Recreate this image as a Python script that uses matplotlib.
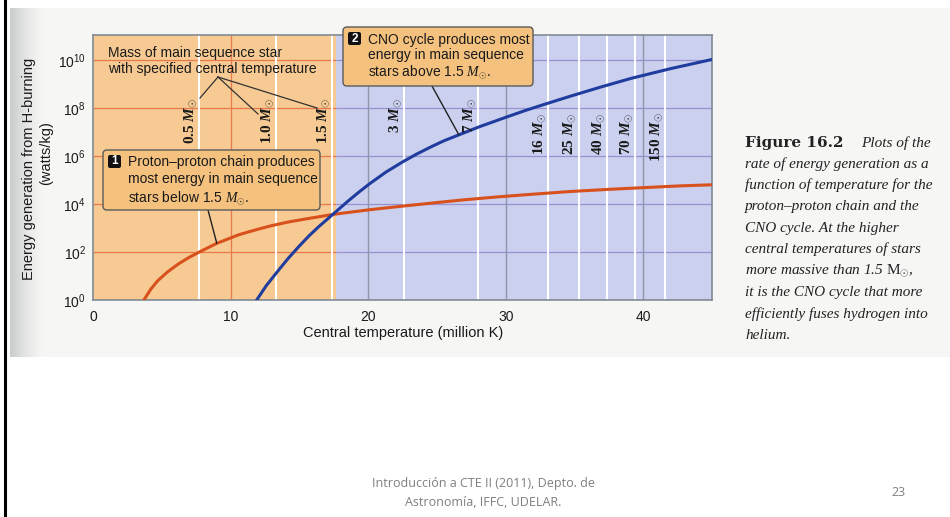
#!/usr/bin/env python3
"""Energy generation rate vs. central temperature: p-p chain and CNO cycle."""

import matplotlib
matplotlib.use("Agg")
import matplotlib.pyplot as plt
import numpy as np
from matplotlib.colors import LinearSegmentedColormap
from matplotlib.lines import Line2D
from matplotlib.patches import FancyBboxPatch, Rectangle
from matplotlib.ticker import NullLocator
from matplotlib.transforms import IdentityTransform, blended_transform_factory

W, H = 950, 517

# proton-proton chain: central temperature (million K) vs log10 rate (W/kg)
PP_TEMP = [3.7, 4.2, 4.7, 5.4, 6.2, 7.0, 7.8, 9.0, 10.6, 12.0, 13.0, 14.2, 15.5, 17.5,
           20.1, 22.0, 24.5, 26.9, 29.3, 31.8, 34.7, 37.5, 40.0, 42.5, 45.0]
PP_LOG = [0.0, 0.45, 0.8, 1.16, 1.5, 1.78, 2.02, 2.36, 2.72, 2.95, 3.1, 3.25, 3.38, 3.57,
          3.76, 3.88, 4.03, 4.17, 4.29, 4.4, 4.52, 4.61, 4.68, 4.75, 4.8]

# CNO cycle
CNO_TEMP = [11.9, 12.6, 13.5, 14.2, 15.0, 15.7, 16.4, 17.5, 18.6, 19.3, 20.1, 21.3, 22.5,
            23.5, 24.5, 25.5, 26.6, 28.1, 30.1, 31.4, 32.7, 34.7, 36.9, 39.1, 42.0, 45.0]
CNO_LOG = [0.0, 0.6, 1.25, 1.74, 2.25, 2.67, 3.05, 3.6, 4.15, 4.48, 4.84, 5.33, 5.75,
           6.07, 6.36, 6.63, 6.88, 7.22, 7.63, 7.89, 8.13, 8.49, 8.87, 9.23, 9.64, 10.02]

# main sequence masses (solar units) and their central temperatures
MASS_LABELS = ["0.5", "1.0", "1.5", "3", "7", "16", "25", "40", "70", "150"]
MASS_TEMP = [7.7, 13.3, 17.4, 22.6, 28.0, 33.1, 35.3, 37.4, 39.4, 41.6]
PP_LIMIT_TEMP = 17.7

X_TICKS = [0, 10, 20, 30, 40]
Y_EXPONENTS = [0, 2, 4, 6, 8, 10]

CAPTION_LINES = [
    "rate of energy generation as a",
    "function of temperature for the",
    "proton\u2013proton chain and the",
    "CNO cycle. At the higher",
    "central temperatures of stars",
    r"more massive than 1.5 $\mathrm{M}_{\odot}$,",
    "it is the CNO cycle that more",
    "efficiently fuses hydrogen into",
    "helium.",
]

ORANGE_BG = "#f6ca92"
BLUE_BG = "#cad0ee"
ORANGE_GRID = "#e9784a"
BLUE_GRID = "#9a90d4"
BOX_FILL = "#f4c27e"

plt.rcParams["font.family"] = ["Liberation Sans", "DejaVu Sans"]
plt.rcParams["mathtext.fontset"] = "custom"
plt.rcParams["mathtext.rm"] = "Liberation Serif"
plt.rcParams["mathtext.it"] = "Liberation Serif:italic"
plt.rcParams["mathtext.bf"] = "Liberation Serif:bold"
plt.rcParams["mathtext.bfit"] = "Liberation Serif:italic:bold"

IDENT = IdentityTransform()


def _callout(fig, x0, y0, x1, y1, number, text, spacing, text_dy):
    fig.add_artist(FancyBboxPatch((x0, H - y1), x1 - x0, y1 - y0,
                                  boxstyle="round,pad=0,rounding_size=4", transform=IDENT,
                                  facecolor=BOX_FILL, edgecolor="#5a5a5a", lw=1.0, zorder=4))
    bx, by = x0 + 5, y0 + 5
    fig.add_artist(FancyBboxPatch((bx, H - by - 13), 13, 13,
                                  boxstyle="round,pad=0,rounding_size=2", transform=IDENT,
                                  facecolor="#111111", edgecolor="none", zorder=5))
    fig.text(bx + 6.5, H - by - 6.5, number, transform=IDENT, color="white",
             fontsize=8.5, fontweight="bold", ha="center", va="center", zorder=6)
    fig.text(x0 + 25, H - y0 - text_dy, text, transform=IDENT, fontsize=10, color="#1a1a1a",
             ha="left", va="top", linespacing=spacing, zorder=6)


def main():
    fig = plt.figure(figsize=(W / 100, H / 100), dpi=100)
    fig.patch.set_facecolor("white")

    # scanned page background with the shaded gutter on the left
    fig.add_artist(Rectangle((10, H - 357), 940, 349, transform=IDENT,
                             facecolor="#f6f7f5", edgecolor="none", zorder=-5))
    gax = fig.add_axes([10 / W, (H - 357) / H, 32 / W, 349 / H], zorder=-4)
    shade = LinearSegmentedColormap.from_list("gutter", ["#c8cccc", "#e4e6e5", "#f6f7f5"])
    gax.imshow(np.linspace(0, 1, 64)[None, :], aspect="auto", cmap=shade)
    gax.axis("off")
    fig.add_artist(Line2D([4.5, 4.5], [0, H], transform=IDENT, color="black", lw=2.2))

    ax = fig.add_axes([93 / W, (H - 300) / H, (712 - 93) / W, 265 / H])
    ax.set_facecolor("none")
    ax.set_yscale("log")
    ax.set_xlim(0, 45)
    ax.set_ylim(1, 10 ** 11.04)

    ax.axvspan(0, PP_LIMIT_TEMP, color=ORANGE_BG, lw=0, zorder=0)
    ax.axvspan(PP_LIMIT_TEMP, 45, color=BLUE_BG, lw=0, zorder=0)
    for e in Y_EXPONENTS[1:]:
        ax.hlines(10.0 ** e, 0, PP_LIMIT_TEMP, color=ORANGE_GRID, lw=0.9, zorder=1)
        ax.hlines(10.0 ** e, PP_LIMIT_TEMP, 45, color=BLUE_GRID, lw=0.9, zorder=1)
    ax.axvline(10, color=ORANGE_GRID, lw=0.9, zorder=1)
    for t in X_TICKS[2:]:
        ax.axvline(t, color="#8d97aa", lw=1.0, zorder=1)
    for t in MASS_TEMP:
        ax.axvline(t, color="white", lw=1.5, zorder=1.5)

    ax.plot(PP_TEMP, 10.0 ** np.array(PP_LOG), color="#d8501c", lw=2.2, zorder=3,
            solid_joinstyle="round")
    ax.plot(CNO_TEMP, 10.0 ** np.array(CNO_LOG), color="#1f3c9e", lw=2.2, zorder=3,
            solid_joinstyle="round")

    for s in ax.spines.values():
        s.set_color("#808b93")
        s.set_linewidth(1.2)
    ax.set_xticks(X_TICKS)
    ax.set_yticks([10.0 ** e for e in Y_EXPONENTS])
    ax.yaxis.set_minor_locator(NullLocator())
    ax.tick_params(length=0, labelsize=10, labelcolor="#1a1a1a")
    ax.tick_params(axis="x", pad=7)
    ax.tick_params(axis="y", pad=5)

    fig.text(29, H - 169, "Energy generation from H-burning", transform=IDENT, rotation=90,
             ha="center", va="center", fontsize=10.5, color="#1a1a1a")
    fig.text(46, H - 153, "(watts/kg)", transform=IDENT, rotation=90,
             ha="center", va="center", fontsize=10.5, color="#1a1a1a")
    fig.text(403, H - 333, "Central temperature (million K)", transform=IDENT,
             ha="center", va="center", fontsize=10.5, color="#1a1a1a")

    # mass labels along the white temperature markers
    trans = blended_transform_factory(ax.transData, ax.transAxes)
    for i, (lab, t) in enumerate(zip(MASS_LABELS, MASS_TEMP)):
        top = 0.762 if i < 5 else 0.709
        ax.text(t - 0.6, top, lab + r" $\mathbfit{M}_{\odot}$", transform=trans, rotation=90,
                ha="center", va="top", fontsize=11, fontweight="bold",
                family="Liberation Serif", color="#1a1a1a", zorder=4)

    fig.text(108, H - 61, "Mass of main sequence star\nwith specified central temperature",
             transform=IDENT, ha="left", va="center", fontsize=10, linespacing=1.17,
             color="#1a1a1a", zorder=6)
    for ex, ey in [(200, 98), (258, 114), (317, 108)]:
        fig.add_artist(Line2D([218, ex], [H - 77, H - ey], transform=IDENT,
                              color="#333333", lw=0.9, zorder=6))

    _callout(fig, 103, 150, 320, 210, "1",
             "Proton\u2013proton chain produces\nmost energy in main sequence\n"
             r"stars below 1.5 $M_{\odot}$.", 1.27, 5)
    _callout(fig, 343, 27, 533, 86, "2",
             "CNO cycle produces most\nenergy in main sequence\n"
             r"stars above 1.5 $M_{\odot}$.", 1.1, 6)

    i_pp = PP_TEMP.index(9.0)
    ax.annotate("", xy=(PP_TEMP[i_pp], 10 ** PP_LOG[i_pp]), xytext=(208, H - 210),
                textcoords="figure pixels", annotation_clip=False, zorder=5,
                arrowprops=dict(arrowstyle="-", color="#222222", lw=1.0, shrinkA=0, shrinkB=0))
    i_cno = CNO_TEMP.index(26.6)
    ax.annotate("", xy=(CNO_TEMP[i_cno], 10 ** CNO_LOG[i_cno]), xytext=(432, H - 86),
                textcoords="figure pixels", annotation_clip=False, zorder=5,
                arrowprops=dict(arrowstyle="-", color="#222222", lw=1.0, shrinkA=0, shrinkB=0))

    # caption
    fig.text(745, H - 143, "Figure 16.2", transform=IDENT, ha="left", va="center",
             fontsize=11, fontweight="bold", family="DejaVu Serif", color="#222222")
    fig.text(861, H - 143, "Plots of the", transform=IDENT, ha="left", va="center",
             fontsize=11, style="italic", family="Liberation Serif", color="#222222")
    for k, line in enumerate(CAPTION_LINES):
        fig.text(745, H - (164 + 21.4 * k), line, transform=IDENT, ha="left", va="center",
                 fontsize=11, style="italic", family="Liberation Serif", color="#222222")

    # slide footer
    fig.text(483, H - 483, "Introducción a CTE II (2011), Depto. de", transform=IDENT,
             ha="center", va="center", fontsize=9, family="Open Sans", color="#7f7f7f")
    fig.text(483, H - 502, "Astronomía, IFFC, UDELAR.", transform=IDENT,
             ha="center", va="center", fontsize=9, family="Open Sans", color="#7f7f7f")
    fig.text(898, H - 492, "23", transform=IDENT, ha="center", va="center",
             fontsize=9, family="Open Sans", color="#7f7f7f")

    fig.savefig("out.png", dpi=100)
    plt.close(fig)


if __name__ == "__main__":
    main()
